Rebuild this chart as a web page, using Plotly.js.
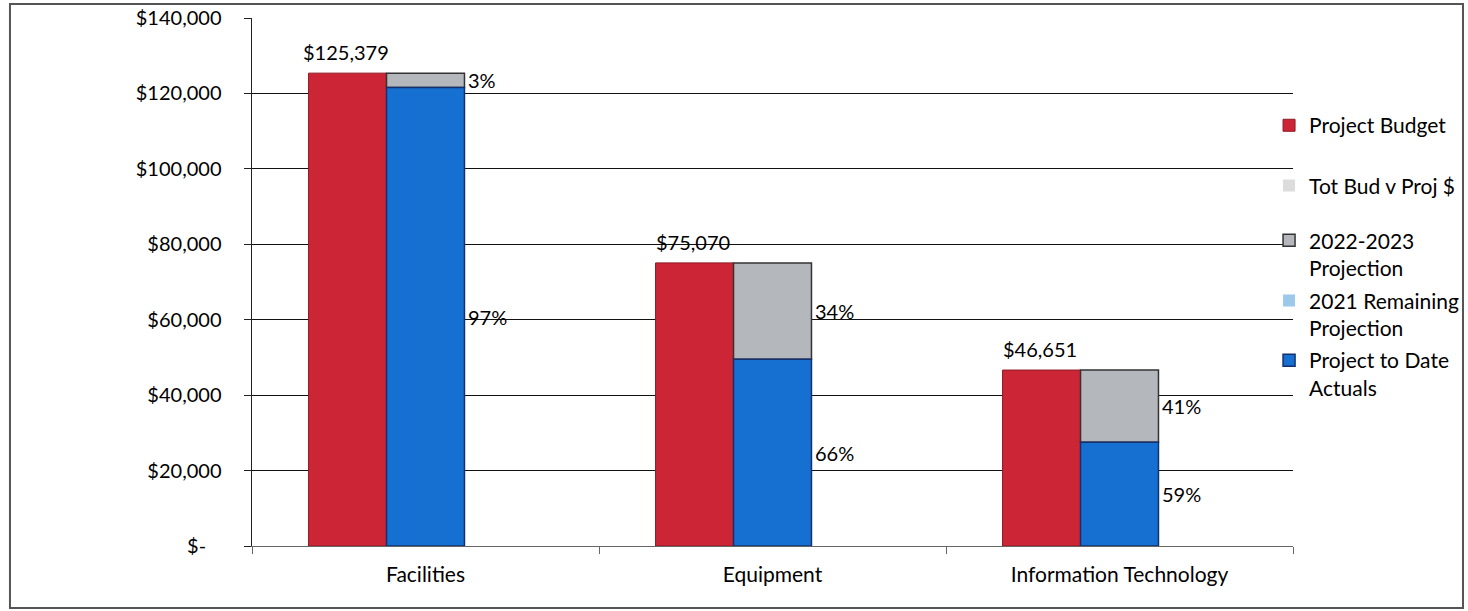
<!DOCTYPE html>
<html>
<head>
<meta charset="utf-8">
<script src="https://cdn.plot.ly/plotly-3.0.1.min.js"></script>
<style>html,body{margin:0;padding:0;background:#fff;}#chart{width:1468px;height:611px;}</style>
</head>
<body>
<div id="chart"></div>
<script>
// ---- data ----
const categories = ["Facilities", "Equipment", "Information Technology"];
const projectBudget = [125379, 75070, 46651];
const totBudVProj = [0, 0, 0];
const projection2223 = [3779, 25570, 19151];
const remaining2021 = [0, 0, 0];
const projectToDate = [121600, 49500, 27500];
const yTickVals = [0, 20000, 40000, 60000, 80000, 100000, 120000, 140000];
const yTickText = ["$-&nbsp;&nbsp;&nbsp;", "$20,000", "$40,000", "$60,000", "$80,000", "$100,000", "$120,000", "$140,000"];

const FONT = "Lato, 'Open Sans', sans-serif";
const FS = 20;
const FL = 21;

const base2223 = projectToDate.map((v, i) => v + remaining2021[i]);

const traces = [
  {type: "bar", name: "Project Budget", x: categories, y: projectBudget, offsetgroup: "a",
   marker: {color: "#CC2536", line: {color: "#8E1A24", width: 1}}, legend: "legend"},
  {type: "bar", name: "2022-2023<br>Projection", x: categories, y: projection2223, base: base2223, offsetgroup: "b",
   marker: {color: "#B4B8BC", line: {color: "#333333", width: 1.5}}, legend: "legend3"},
  {type: "bar", name: "2021 Remaining<br>Projection", x: categories, y: remaining2021, base: projectToDate, offsetgroup: "b",
   marker: {color: "#9CC8EC", line: {color: "#3A6EA8", width: 0}}, legend: "legend4"},
  {type: "bar", name: "Project to Date<br>Actuals", x: categories, y: projectToDate, offsetgroup: "b",
   marker: {color: "#1570D2", line: {color: "#14306E", width: 1.5}}, legend: "legend5"},
  {type: "bar", name: "Tot Bud v Proj $", x: categories, y: totBudVProj, offsetgroup: "c",
   marker: {color: "#DCDCDC", line: {color: "#BBBBBB", width: 0}}, legend: "legend2"}
];

const annotations = [];
categories.forEach((c, i) => {
  annotations.push({x: c, y: projectBudget[i], xref: "x", yref: "y", xshift: -80, yshift: 7,
    yanchor: "bottom", xanchor: "center", showarrow: false,
    text: "$" + projectBudget[i].toLocaleString("en-US"), font: {family: FONT, size: FS, color: "#000"}});
  const pctA = Math.round(projectToDate[i] / projectBudget[i] * 100);
  const pctP = 100 - pctA;
  annotations.push({x: c, y: base2223[i] + projection2223[i] / 2, xref: "x", yref: "y", xshift: 40,
    xanchor: "left", yanchor: "middle", showarrow: false, text: pctP + "%",
    font: {family: FONT, size: FS, color: "#000"}});
  annotations.push({x: c, y: projectToDate[i] / 2, xref: "x", yref: "y", xshift: 40,
    xanchor: "left", yanchor: "middle", showarrow: false, text: pctA + "%",
    font: {family: FONT, size: FS, color: "#000"}});
});

function leg(y) {
  return {x: 0.977, y: y, xanchor: "left", yanchor: "top", valign: "top", bgcolor: "rgba(0,0,0,0)",
    font: {family: FONT, size: FL, color: "#000"}, itemclick: false, itemdoubleclick: false};
}

const layout = {
  width: 1468, height: 611,
  margin: {l: 252, r: 175, t: 18, b: 65, pad: 0, autoexpand: false},
  paper_bgcolor: "#ffffff", plot_bgcolor: "#ffffff",
  font: {family: FONT, size: FS, color: "#000"},
  barmode: "group", bargap: 0.326, bargroupgap: 0,
  showlegend: true,
  legend: leg(0.835), legend2: leg(0.721), legend3: leg(0.617), legend4: leg(0.503), legend5: leg(0.390),
  xaxis: {type: "category", tickson: "boundaries", ticks: "outside", ticklen: 7, tickcolor: "#666",
    showline: true, linecolor: "#666", linewidth: 1, showgrid: false, ticklabelstandoff: 10,
    tickfont: {family: FONT, size: FL, color: "#000"}},
  yaxis: {range: [0, 140000], tickvals: yTickVals, ticktext: yTickText, ticks: "outside", ticklen: 7,
    tickcolor: "#222", showline: true, linecolor: "#222", linewidth: 1.5, showgrid: true,
    gridcolor: "#111", gridwidth: 1.2, zeroline: false, ticklabelstandoff: 18,
    tickfont: {family: FONT, size: FS, color: "#000"}},
  annotations: annotations,
  shapes: [{type: "rect", xref: "paper", yref: "paper", x0: -0.2325, x1: 1.1633, y0: -0.1174, y1: 1.0265,
    line: {color: "#555", width: 2}, fillcolor: "rgba(0,0,0,0)", layer: "below"}]
};

Plotly.newPlot("chart", traces, layout, {displayModeBar: false, staticPlot: true});
</script>
</body>
</html>
